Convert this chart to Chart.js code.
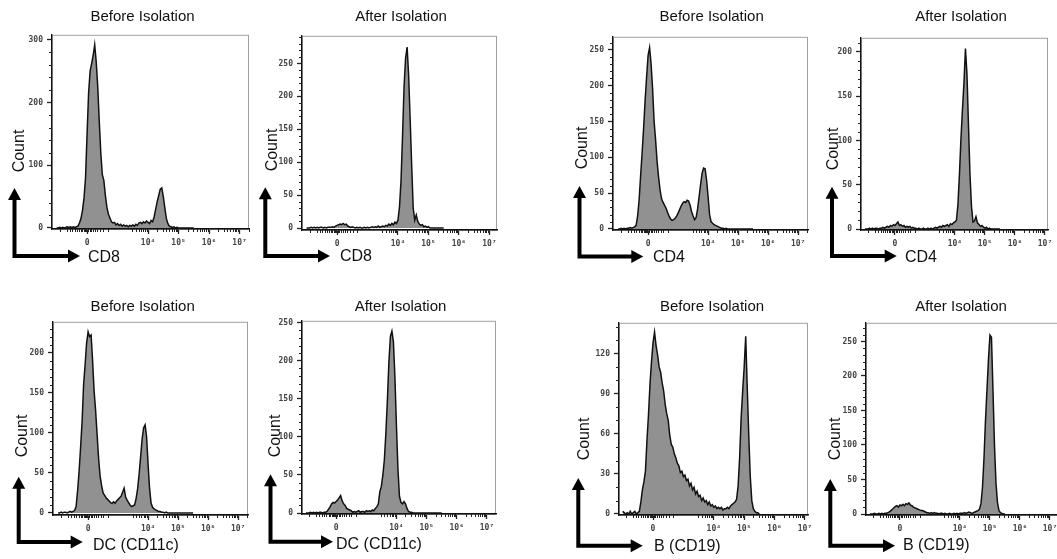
<!DOCTYPE html>
<html>
<head>
<meta charset="utf-8">
<title>Before / After Isolation</title>
<script src="https://cdn.jsdelivr.net/npm/chart.js@4.4.1/dist/chart.umd.min.js"></script>
<style>
  html, body { margin: 0; padding: 0; background: #fff; }
  #fig { position: relative; width: 1057px; height: 559px; overflow: hidden; background: #fff;
         font-family: "Liberation Sans", Arial, Helvetica, sans-serif; color: #111; }
  #fig canvas { position: absolute; }
  #arrows { position: absolute; left: 0; top: 0; z-index: 2; }
  .title { position: absolute; font-size: 15px; line-height: 15px; white-space: nowrap; transform: translateX(-50%); z-index: 3; }
  .count { position: absolute; font-size: 16px; line-height: 16px; white-space: nowrap; transform: translate(-50%, -50%) rotate(-90deg); z-index: 3; }
  .marker { position: absolute; font-size: 16px; line-height: 16px; white-space: nowrap; z-index: 3; }
</style>
</head>
<body>
<div id="fig"><svg id="arrows" width="1057" height="559" xmlns="http://www.w3.org/2000/svg"></svg></div>
<script>
(function () {
    'use strict';

    // fluorescence channel (0 = 2, 10^4 = 4, 10^5 = 5 ...)
    var channels = [
        1.00, 1.05, 1.10, 1.15, 1.20, 1.25, 1.30, 1.35, 1.40, 1.45,
        1.50, 1.55, 1.60, 1.65, 1.70, 1.75, 1.80, 1.85, 1.90, 1.95,
        2.00, 2.05, 2.10, 2.15, 2.20, 2.25, 2.30, 2.35, 2.40, 2.45,
        2.50, 2.55, 2.60, 2.65, 2.70, 2.75, 2.80, 2.85, 2.90, 2.95,
        3.00, 3.05, 3.10, 3.15, 3.20, 3.25, 3.30, 3.35, 3.40, 3.45,
        3.50, 3.55, 3.60, 3.65, 3.70, 3.75, 3.80, 3.85, 3.90, 3.95,
        4.00, 4.05, 4.10, 4.15, 4.20, 4.25, 4.30, 4.35, 4.40, 4.45,
        4.50, 4.55, 4.60, 4.65, 4.70, 4.75, 4.80, 4.85, 4.90, 4.95,
        5.00, 5.05, 5.10, 5.15, 5.20, 5.25, 5.30, 5.35, 5.40, 5.45,
        5.50
    ];

    var cd8Before = [
        0, 0, 1, 0, 1, 0, 1, 2, 1, 2,
        1, 2, 1, 2, 3, 8, 15, 28, 48, 80,
        150, 215, 250, 262, 275, 292, 265, 225, 170, 120,
        85, 76, 52, 33, 22, 16, 10, 8, 9, 5,
        7, 4, 6, 3, 5, 3, 4, 2, 4, 3,
        5, 3, 6, 4, 8, 9, 7, 10, 8, 11,
        9, 7, 12, 10, 18, 30, 42, 52, 62, 64,
        50, 32, 15, 7, 3, 2, 1, 2, 0, 1,
        0, 0, 0, 0, 0, 0, 0, 0, 0, 0,
        0
    ];
    var cd8After = [
        0, 0, 0, 1, 0, 1, 0, 1, 0, 1,
        1, 0, 1, 0, 1, 1, 1, 2, 1, 3,
        4, 5, 6, 5, 7, 5, 6, 3, 2, 1,
        2, 1, 0, 1, 0, 1, 0, 0, 1, 0,
        1, 0, 1, 2, 1, 2, 1, 3, 1, 2,
        3, 2, 4, 3, 6, 4, 7, 5, 9, 7,
        12, 32, 72, 140, 215, 258, 275, 232, 165, 95,
        30, 12, 20, 10, 6, 4, 5, 2, 3, 1,
        2, 0, 0, 0, 0, 0, 0, 0, 0, 0,
        0
    ];
    var cd4Before = [
        0, 0, 1, 0, 1, 0, 1, 1, 2, 1,
        2, 3, 5, 18, 40, 74, 106, 140, 179, 212,
        242, 253, 230, 195, 150, 124, 94, 72, 54, 42,
        37, 33, 29, 23, 18, 14, 12, 13, 15, 18,
        22, 27, 32, 36, 38, 37, 40, 39, 33, 24,
        18, 13, 16, 28, 45, 62, 78, 85, 84, 68,
        45, 20, 10, 8, 6, 5, 4, 3, 2, 1,
        1, 0, 1, 0, 0, 0, 0, 0, 0, 0,
        0, 0, 0, 0, 0, 0, 0, 0, 0, 0,
        0
    ];
    var cd4After = [
        0, 0, 0, 1, 0, 1, 0, 1, 1, 0,
        1, 1, 2, 1, 2, 3, 2, 4, 3, 5,
        4, 6, 8, 4, 5, 3, 4, 2, 3, 2,
        3, 1, 2, 1, 1, 0, 1, 0, 0, 1,
        0, 0, 1, 0, 1, 0, 1, 2, 1, 2,
        3, 2, 4, 3, 4, 5, 3, 6, 5, 7,
        8, 10, 28, 62, 102, 135, 165, 204, 175, 118,
        62, 26, 8, 9, 14, 7, 5, 3, 4, 2,
        1, 2, 0, 1, 0, 0, 0, 0, 0, 0,
        0
    ];
    var dcBefore = [
        0, 0, 1, 0, 1, 1, 0, 1, 2, 1,
        2, 3, 8, 28, 52, 82, 114, 160, 185, 212,
        226, 220, 222, 190, 152, 128, 98, 68, 46, 34,
        25, 22, 19, 17, 15, 13, 12, 14, 12, 15,
        17, 19, 21, 26, 31, 20, 16, 13, 10, 8,
        9, 10, 18, 30, 48, 70, 92, 106, 110, 95,
        60, 30, 12, 7, 5, 4, 3, 2, 2, 1,
        1, 0, 1, 0, 0, 0, 0, 0, 0, 0,
        0, 0, 0, 0, 0, 0, 0, 0, 0, 0,
        0
    ];
    var dcAfter = [
        0, 0, 0, 1, 0, 1, 0, 1, 0, 1,
        1, 0, 1, 1, 2, 5, 8, 12, 14, 13,
        15, 17, 20, 23, 16, 12, 10, 6, 5, 4,
        3, 1, 2, 1, 2, 3, 1, 2, 2, 1,
        3, 2, 3, 2, 4, 3, 6, 8, 12, 28,
        35, 50, 70, 105, 148, 198, 232, 239, 225, 178,
        115, 58, 22, 14, 12, 15, 12, 6, 2, 1,
        1, 0, 0, 0, 0, 0, 0, 0, 0, 0,
        0, 0, 0, 0, 0, 0, 0, 0, 0, 0,
        0
    ];
    var bBefore = [
        2, 1, 0, 1, 0, 2, 0, 1, 2, 0,
        1, 2, 9, 18, 24, 32, 55, 74, 97, 114,
        128, 136, 126, 119, 110, 106, 98, 92, 82, 75,
        70, 59, 52, 50, 45, 42, 38, 36, 31, 32,
        28, 29, 25, 26, 21, 23, 18, 20, 15, 17,
        13, 14, 10, 12, 9, 10, 7, 9, 6, 7,
        5, 6, 4, 5, 4, 5, 3, 4, 4, 5,
        4, 6, 7, 8, 9, 11, 21, 42, 72, 92,
        110, 133, 95, 59, 28, 10, 4, 2, 1, 1,
        0
    ];
    var bAfter = [
        0, 0, 0, 1, 0, 0, 1, 0, 1, 0,
        1, 1, 2, 3, 5, 7, 9, 11, 12, 10,
        13, 12, 14, 12, 15, 14, 16, 13, 12, 10,
        9, 8, 7, 6, 5, 5, 4, 3, 2, 2,
        1, 2, 1, 2, 1, 1, 0, 1, 1, 0,
        1, 0, 0, 1, 0, 0, 1, 0, 1, 0,
        1, 1, 1, 2, 1, 2, 3, 2, 1, 2,
        3, 4, 5, 7, 15, 38, 80, 135, 180, 224,
        259, 256, 180, 100, 45, 17, 5, 2, 1, 0,
        0
    ];

    var cd8BeforeTicks = [0, 100, 200, 300];
    var cd8AfterTicks = [0, 50, 100, 150, 200, 250];
    var cd4BeforeTicks = [0, 50, 100, 150, 200, 250];
    var cd4AfterTicks = [0, 50, 100, 150, 200];
    var dcBeforeTicks = [0, 50, 100, 150, 200];
    var dcAfterTicks = [0, 50, 100, 150, 200, 250];
    var bBeforeTicks = [0, 30, 60, 90, 120];
    var bAfterTicks = [0, 50, 100, 150, 200, 250];

    var xTickValues = [2, 4, 5, 6, 7];
    var xTickLabels = ['0', '10\u2074', '10\u2075', '10\u2076', '10\u2077'];
    var xMinorTicks = [
        1.11, 1.33, 1.44, 1.52, 1.61, 1.68, 1.75, 1.8, 1.85, 1.89, 1.93, 1.97,
        2.03, 2.08, 2.12, 2.19, 2.26, 2.34, 2.43, 2.51, 2.67,
        3.48, 3.6, 3.7, 3.78, 3.85, 3.9, 3.95,
        4.3, 4.48, 4.6, 4.7, 4.78, 4.85, 4.9, 4.95,
        5.3, 5.48, 5.6, 5.7, 5.78, 5.85, 5.9, 5.95,
        6.3, 6.48, 6.6, 6.7, 6.78, 6.85, 6.9, 6.95, 7.3
    ];

    var BEFORE = 'Before Isolation';
    var AFTER = 'After Isolation';

    // layout of each panel: box = plot area [left, top, right, bottom] in page px
    var panels = [
        { title: BEFORE, marker: 'CD8', values: cd8Before, yTicks: cd8BeforeTicks, yMinor: 20,
          box: [52, 34, 249, 229], xr: [0.85, 7.31], yr: [-1.6, 308],
          titleAt: [142.5, 8], countAt: [18.5, 151], markerAt: [88, 249], arrow: [14.5, 256, 188, 80] },
        { title: AFTER, marker: 'CD8', values: cd8After, yTicks: cd8AfterTicks, yMinor: 10,
          box: [302, 35, 497, 230], xr: [0.85, 7.25], yr: [-3, 292],
          titleAt: [401, 8], countAt: [271.5, 150], markerAt: [340, 248], arrow: [265.3, 256, 187.3, 330] },
        { title: BEFORE, marker: 'CD4', values: cd4Before, yTicks: cd4BeforeTicks, yMinor: 10,
          box: [613, 36, 808, 230], xr: [0.83, 7.33], yr: [-1.4, 268],
          titleAt: [711.7, 8], countAt: [581.5, 148], markerAt: [653, 249], arrow: [579.5, 256.5, 186, 643.3] },
        { title: AFTER, marker: 'CD4', values: cd4After, yTicks: cd4AfterTicks, yMinor: 10,
          box: [861, 37, 1048, 230], xr: [0.87, 7.1], yr: [-1.1, 216],
          titleAt: [961, 8], countAt: [833, 149], markerAt: [905, 249], arrow: [832, 256, 186.7, 896.7] },
        { title: BEFORE, marker: 'DC (CD11c)', values: dcBefore, yTicks: dcBeforeTicks, yMinor: 10,
          box: [53, 321, 248, 515], xr: [0.83, 7.33], yr: [-2.5, 238.5],
          titleAt: [142.7, 298], countAt: [21.5, 436], markerAt: [93, 537], arrow: [18.7, 542, 476.7, 82.7] },
        { title: AFTER, marker: 'DC (CD11c)', values: dcAfter, yTicks: dcAfterTicks, yMinor: 10,
          box: [302, 320, 496, 514], xr: [0.87, 7.3], yr: [-1.3, 252.6],
          titleAt: [400.5, 298], countAt: [275, 436], markerAt: [336, 536], arrow: [270.5, 541.7, 474.3, 333] },
        { title: BEFORE, marker: 'B (CD19)', values: bBefore, yTicks: bBeforeTicks, yMinor: 10,
          box: [619, 322, 808, 515], xr: [0.88, 7.1], yr: [-0.75, 143],
          titleAt: [712, 298], countAt: [583.5, 439], markerAt: [654, 538], arrow: [578.3, 545.7, 478, 642.7] },
        { title: AFTER, marker: 'B (CD19)', values: bAfter, yTicks: bAfterTicks, yMinor: 10,
          box: [866, 322, 1059, 515], xr: [0.87, 7.3], yr: [-1.4, 277],
          titleAt: [961, 298], countAt: [835, 439], markerAt: [903, 537], arrow: [830.3, 545.7, 479, 895] }
    ];

    var AXIS_W = 30, AXIS_H = 24, PAD_T = 8, PAD_R = 10;
    var tickFont = { family: '"DejaVu Sans Mono", monospace', size: 8, weight: 'bold' };

    var fig = document.getElementById('fig');
    var svg = document.getElementById('arrows');

    // grey frame under the data, short minor ticks on top
    var histFrame = {
        id: 'histFrame',
        beforeDatasetsDraw: function (chart) {
            var a = chart.chartArea, ctx = chart.ctx;
            ctx.save();
            ctx.strokeStyle = '#a0a0a0';
            ctx.lineWidth = 1;
            ctx.strokeRect(a.left + 0.5, a.top + 0.5, a.right - a.left - 1, a.bottom - a.top);
            ctx.restore();
        },
        afterDraw: function (chart, args, opts) {
            var xs = chart.scales.x, ys = chart.scales.y, a = chart.chartArea, ctx = chart.ctx;
            ctx.save();
            ctx.strokeStyle = '#222';
            ctx.lineWidth = 1;
            ctx.beginPath();
            xMinorTicks.forEach(function (v) {
                if (v <= xs.min || v >= xs.max) { return; }
                var px = Math.round(xs.getPixelForValue(v)) + 0.5;
                ctx.moveTo(px, a.bottom);
                ctx.lineTo(px, a.bottom + 3);
            });
            for (var v = opts.step; v < ys.max; v += opts.step) {
                if (opts.major.indexOf(v) !== -1) { continue; }
                var py = Math.round(ys.getPixelForValue(v)) + 0.5;
                ctx.moveTo(a.left, py);
                ctx.lineTo(a.left - 3, py);
            }
            ctx.stroke();
            ctx.restore();
        }
    };

    function addText(cls, text, left, top) {
        var el = document.createElement('div');
        el.className = cls;
        el.textContent = text;
        el.style.left = left + 'px';
        el.style.top = top + 'px';
        fig.appendChild(el);
    }

    function svgEl(name, attrs) {
        var el = document.createElementNS('http://www.w3.org/2000/svg', name);
        Object.keys(attrs).forEach(function (k) { el.setAttribute(k, attrs[k]); });
        svg.appendChild(el);
    }

    function drawArrow(cx, cy, tipY, tipX) {
        var head = 12, half = 6.5;
        svgEl('path', {
            d: 'M' + cx + ' ' + (tipY + head - 1) + ' L' + cx + ' ' + cy + ' L' + (tipX - head + 1) + ' ' + cy,
            fill: 'none', stroke: '#000', 'stroke-width': 4, 'stroke-linejoin': 'miter', 'stroke-linecap': 'square'
        });
        svgEl('polygon', {
            points: (cx - half) + ',' + (tipY + head) + ' ' + (cx + half) + ',' + (tipY + head) + ' ' + cx + ',' + tipY,
            fill: '#000'
        });
        svgEl('polygon', {
            points: (tipX - head) + ',' + (cy - half) + ' ' + (tipX - head) + ',' + (cy + half) + ' ' + tipX + ',' + cy,
            fill: '#000'
        });
    }

    panels.forEach(function (p) {
        var canvas = document.createElement('canvas');
        canvas.width = p.box[2] - p.box[0] + AXIS_W + PAD_R;
        canvas.height = p.box[3] - p.box[1] + PAD_T + AXIS_H;
        canvas.style.left = (p.box[0] - AXIS_W) + 'px';
        canvas.style.top = (p.box[1] - PAD_T) + 'px';
        fig.appendChild(canvas);

        new Chart(canvas.getContext('2d'), {
            type: 'line',
            data: {
                datasets: [{
                    data: channels.map(function (c, i) { return { x: c, y: p.values[i] }; }),
                    fill: 'origin',
                    backgroundColor: '#919191',
                    borderColor: '#111',
                    borderWidth: 1.5,
                    pointRadius: 0,
                    tension: 0
                }]
            },
            options: {
                responsive: false,
                animation: false,
                events: [],
                layout: { padding: { left: 0, top: PAD_T, right: PAD_R, bottom: 0 } },
                plugins: {
                    legend: { display: false },
                    tooltip: { enabled: false },
                    histFrame: { step: p.yMinor, major: p.yTicks }
                },
                scales: {
                    x: {
                        type: 'linear',
                        min: p.xr[0],
                        max: p.xr[1],
                        afterBuildTicks: function (scale) {
                            scale.ticks = xTickValues.map(function (v) { return { value: v }; });
                        },
                        afterFit: function (scale) { scale.height = AXIS_H; },
                        ticks: {
                            autoSkip: false,
                            maxRotation: 0,
                            minRotation: 0,
                            padding: 4,
                            color: '#444',
                            font: tickFont,
                            callback: function (value) {
                                return xTickLabels[xTickValues.indexOf(value)];
                            }
                        },
                        grid: { drawOnChartArea: false, tickLength: 5, tickColor: '#222', tickWidth: 1.3 },
                        border: { display: true, color: '#111', width: 1.5, z: 1 }
                    },
                    y: {
                        min: p.yr[0],
                        max: p.yr[1],
                        afterBuildTicks: function (scale) {
                            scale.ticks = p.yTicks.map(function (v) { return { value: v }; });
                        },
                        afterFit: function (scale) { scale.width = AXIS_W; },
                        ticks: {
                            autoSkip: false,
                            padding: 4,
                            color: '#444',
                            font: tickFont,
                            callback: function (value) { return String(value); }
                        },
                        grid: { drawOnChartArea: false, tickLength: 5, tickColor: '#222', tickWidth: 1.3 },
                        border: { display: true, color: '#111', width: 1.3, z: 1 }
                    }
                }
            },
            plugins: [histFrame]
        });

        addText('title', p.title, p.titleAt[0], p.titleAt[1]);
        addText('count', 'Count', p.countAt[0], p.countAt[1]);
        addText('marker', p.marker, p.markerAt[0], p.markerAt[1]);
        drawArrow(p.arrow[0], p.arrow[1], p.arrow[2], p.arrow[3]);
    });
})();
</script>
</body>
</html>
